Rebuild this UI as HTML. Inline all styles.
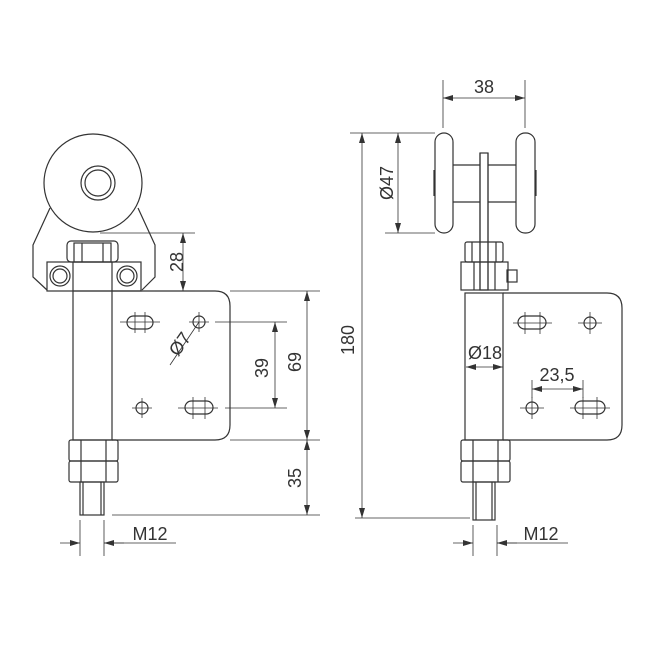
<!DOCTYPE html>
<html><head><style>html,body{margin:0;padding:0;background:#fff}svg{display:block}text{font-family:"Liberation Sans",sans-serif;font-size:18px;fill:#333}</style></head><body>
<svg width="650" height="650" viewBox="0 0 650 650" xmlns="http://www.w3.org/2000/svg">
<defs><marker id="a" viewBox="0 0 10 6" refX="10" refY="3" markerWidth="10" markerHeight="6" orient="auto-start-reverse" markerUnits="userSpaceOnUse"><path d="M0,0 L10,3 L0,6 z" fill="#333"/></marker></defs>
<g fill="none" stroke="#333" stroke-width="1.2">
<!-- LEFT VIEW -->
<circle cx="93" cy="183" r="49"/>
<circle cx="98" cy="183" r="17"/>
<circle cx="98" cy="183" r="13"/>
<path d="M50,208 L33,245 L33,277 L47,290"/>
<path d="M138,208 L155,245 L155,277 L142,290"/>
<rect x="67" y="241" width="51" height="21" rx="4"/>
<rect x="74" y="243" width="37" height="19"/>
<line x1="82" y1="243" x2="82" y2="262"/><line x1="103" y1="243" x2="103" y2="262"/>
<rect x="47" y="262" width="94" height="29"/>
<line x1="73" y1="262" x2="73" y2="291"/><line x1="112" y1="262" x2="112" y2="291"/>
<circle cx="60" cy="276" r="10"/><circle cx="60" cy="276" r="7"/>
<circle cx="127" cy="276" r="10"/><circle cx="127" cy="276" r="7"/>
<rect x="73" y="291" width="39" height="149"/>
<path d="M112,291 L215,291 Q230,291 230,306 L230,425 Q230,440 215,440 L112,440"/>
<rect x="127" y="316" width="26" height="13" rx="6.5"/>
<line x1="120" y1="322" x2="160" y2="322" stroke-width="0.8"/><line x1="135" y1="312" x2="135" y2="333" stroke-width="0.8"/><line x1="145" y1="312" x2="145" y2="333" stroke-width="0.8"/>
<circle cx="199" cy="322" r="6"/><line x1="189" y1="322" x2="209" y2="322" stroke-width="0.8"/><line x1="199" y1="312" x2="199" y2="332" stroke-width="0.8"/>
<circle cx="142" cy="408" r="6"/><line x1="132" y1="408" x2="152" y2="408" stroke-width="0.8"/><line x1="142" y1="398" x2="142" y2="418" stroke-width="0.8"/>
<rect x="185" y="401" width="28" height="13" rx="6.5"/>
<line x1="178" y1="408" x2="218" y2="408" stroke-width="0.8"/><line x1="193" y1="397" x2="193" y2="419" stroke-width="0.8"/><line x1="205" y1="397" x2="205" y2="419" stroke-width="0.8"/>
<line x1="170" y1="365" x2="199" y2="322" stroke-width="0.8"/>
<rect x="69" y="440" width="49" height="21" rx="2"/><rect x="69" y="461" width="49" height="21" rx="2"/>
<line x1="81" y1="440" x2="81" y2="482"/><line x1="106" y1="440" x2="106" y2="482"/>
<rect x="80" y="482" width="24" height="33"/><line x1="83" y1="482" x2="83" y2="515"/><line x1="101" y1="482" x2="101" y2="515"/>
<!-- left dims -->
<g stroke-width="0.8">
<line x1="100" y1="233" x2="195" y2="233"/><line x1="155" y1="291" x2="195" y2="291"/>
<line x1="183" y1="233" x2="183" y2="291" marker-start="url(#a)" marker-end="url(#a)"/>
<line x1="215" y1="322" x2="287" y2="322"/><line x1="225" y1="408" x2="287" y2="408"/>
<line x1="275" y1="322" x2="275" y2="408" marker-start="url(#a)" marker-end="url(#a)"/>
<line x1="230" y1="291" x2="320" y2="291"/><line x1="230" y1="440" x2="320" y2="440"/><line x1="112" y1="515" x2="320" y2="515"/>
<line x1="307" y1="291" x2="307" y2="440" marker-start="url(#a)" marker-end="url(#a)"/>
<line x1="307" y1="440" x2="307" y2="515" marker-start="url(#a)" marker-end="url(#a)"/>
<line x1="80" y1="520" x2="80" y2="556"/><line x1="104" y1="520" x2="104" y2="556"/>
<line x1="60" y1="543" x2="80" y2="543" marker-end="url(#a)"/><line x1="124" y1="543" x2="104" y2="543" marker-end="url(#a)"/><line x1="104" y1="543" x2="176" y2="543"/>
</g>
<!-- RIGHT VIEW -->
<rect x="435" y="133" width="18" height="100" rx="9"/>
<rect x="516" y="133" width="19" height="100" rx="9"/>
<line x1="434" y1="170" x2="434" y2="196"/><line x1="536" y1="170" x2="536" y2="196"/>
<line x1="453" y1="165" x2="516" y2="165"/><line x1="453" y1="202" x2="516" y2="202"/>
<rect x="480" y="153" width="8" height="137" fill="#fff"/>
<rect x="465" y="242" width="38" height="20" rx="2"/>
<line x1="472" y1="242" x2="472" y2="262"/><line x1="496" y1="242" x2="496" y2="262"/>
<rect x="461" y="262" width="47" height="28"/>
<line x1="474" y1="262" x2="474" y2="290"/><line x1="495" y1="262" x2="495" y2="290"/>
<rect x="507" y="270" width="10" height="12"/>
<line x1="480" y1="153" x2="480" y2="290"/><line x1="488" y1="153" x2="488" y2="290"/>
<rect x="465" y="293" width="38" height="147"/>
<path d="M503,293 L607,293 Q622,293 622,308 L622,425 Q622,440 607,440 L503,440"/>
<rect x="518" y="316" width="28" height="13" rx="6.5"/>
<line x1="513" y1="323" x2="552" y2="323" stroke-width="0.8"/><line x1="525" y1="312" x2="525" y2="334" stroke-width="0.8"/><line x1="540" y1="312" x2="540" y2="334" stroke-width="0.8"/>
<circle cx="590" cy="323" r="6"/><line x1="578" y1="323" x2="602" y2="323" stroke-width="0.8"/><line x1="590" y1="312" x2="590" y2="334" stroke-width="0.8"/>
<circle cx="532" cy="408" r="6"/><line x1="520" y1="408" x2="544" y2="408" stroke-width="0.8"/><line x1="532" y1="397" x2="532" y2="419" stroke-width="0.8"/>
<rect x="575" y="401" width="30" height="13" rx="6.5"/>
<line x1="570" y1="408" x2="610" y2="408" stroke-width="0.8"/><line x1="583" y1="397" x2="583" y2="419" stroke-width="0.8"/><line x1="597" y1="397" x2="597" y2="419" stroke-width="0.8"/>
<rect x="461" y="440" width="49" height="21" rx="2"/><rect x="461" y="461" width="49" height="21" rx="2"/>
<line x1="473" y1="440" x2="473" y2="482"/><line x1="498" y1="440" x2="498" y2="482"/>
<rect x="473" y="482" width="22" height="38"/><line x1="476" y1="482" x2="476" y2="520"/><line x1="492" y1="482" x2="492" y2="520"/>
<g stroke-width="0.8">
<line x1="443" y1="80" x2="443" y2="128"/><line x1="525" y1="80" x2="525" y2="128"/>
<line x1="443" y1="98" x2="525" y2="98" marker-start="url(#a)" marker-end="url(#a)"/>
<line x1="350" y1="133" x2="435" y2="133"/><line x1="385" y1="233" x2="435" y2="233"/>
<line x1="398" y1="133" x2="398" y2="233" marker-start="url(#a)" marker-end="url(#a)"/>
<line x1="362" y1="133" x2="362" y2="518" marker-start="url(#a)" marker-end="url(#a)"/>
<line x1="355" y1="518" x2="470" y2="518"/>
<line x1="466" y1="367" x2="503" y2="367" marker-start="url(#a)" marker-end="url(#a)"/>
<line x1="532" y1="380" x2="532" y2="398"/><line x1="583" y1="380" x2="583" y2="398"/>
<line x1="532" y1="389" x2="583" y2="389" marker-start="url(#a)" marker-end="url(#a)"/>
<line x1="473" y1="525" x2="473" y2="556"/><line x1="497" y1="525" x2="497" y2="556"/>
<line x1="453" y1="543" x2="473" y2="543" marker-end="url(#a)"/><line x1="517" y1="543" x2="497" y2="543" marker-end="url(#a)"/><line x1="497" y1="543" x2="568" y2="543"/>
</g>
</g>
<text x="177" y="262" text-anchor="middle" transform="rotate(-90 177 262)" dy="6">28</text>
<text x="180" y="344" text-anchor="middle" transform="rotate(-55 180 344)" dy="6">Ø7</text>
<text x="262" y="368" text-anchor="middle" transform="rotate(-90 262 368)" dy="6">39</text>
<text x="295" y="362" text-anchor="middle" transform="rotate(-90 295 362)" dy="6">69</text>
<text x="295" y="478" text-anchor="middle" transform="rotate(-90 295 478)" dy="6">35</text>
<text x="150" y="540" text-anchor="middle">M12</text>
<text x="484" y="93" text-anchor="middle">38</text>
<text x="387" y="183" text-anchor="middle" transform="rotate(-90 387 183)" dy="6">Ø47</text>
<text x="348" y="340" text-anchor="middle" transform="rotate(-90 348 340)" dy="6">180</text>
<text x="485" y="359" text-anchor="middle">Ø18</text>
<text x="557" y="381" text-anchor="middle">23,5</text>
<text x="541" y="540" text-anchor="middle">M12</text>
</svg>
</body></html>
